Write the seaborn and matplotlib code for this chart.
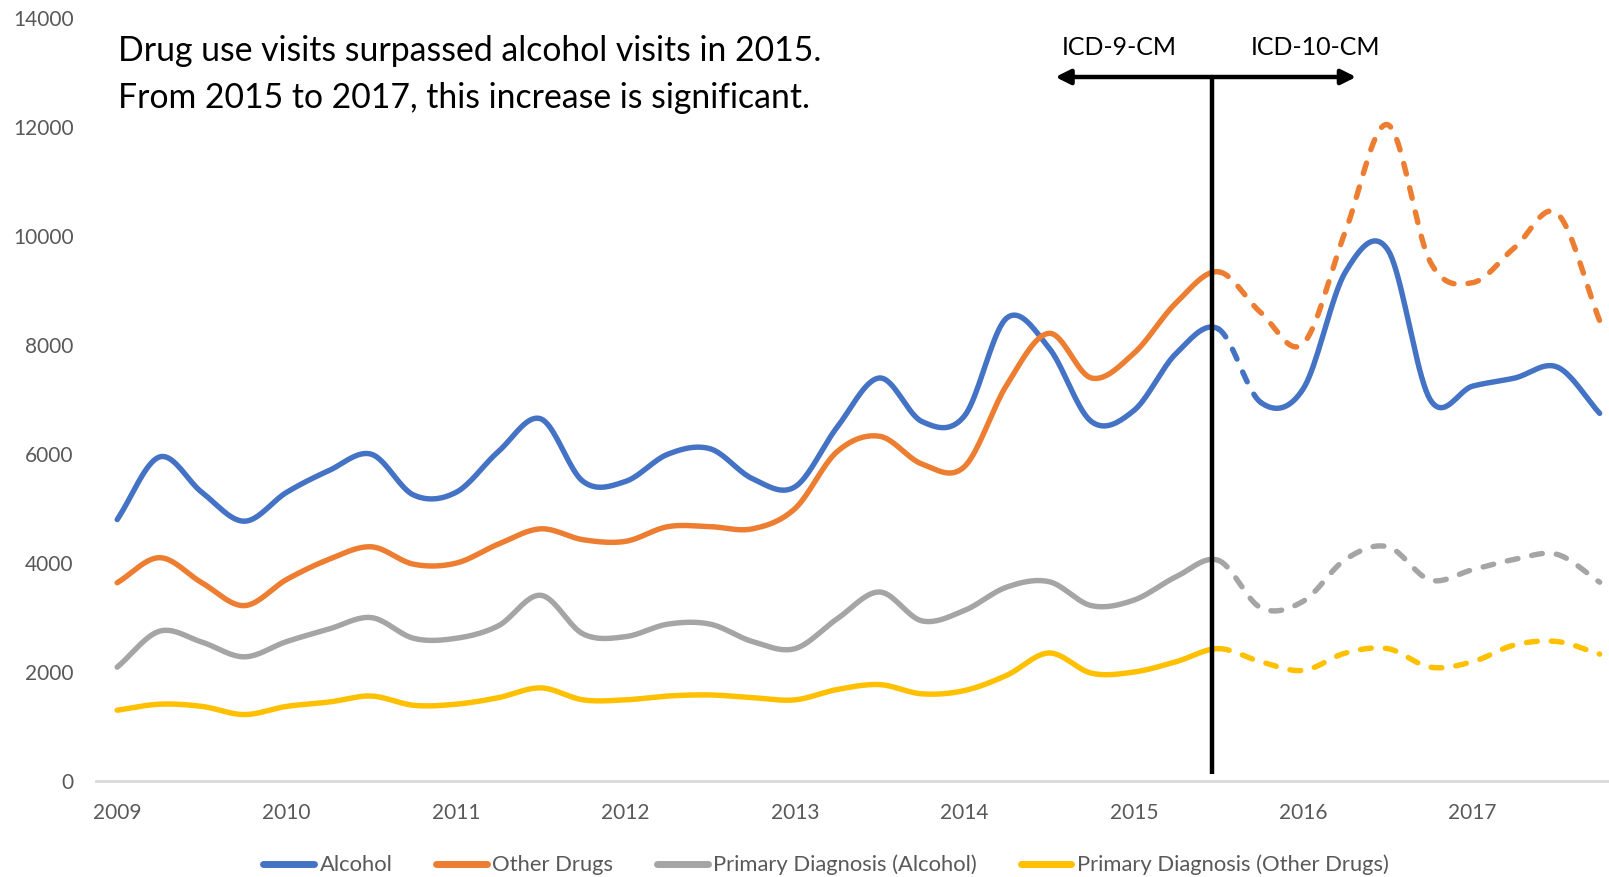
import numpy as np
import pandas as pd
import matplotlib
matplotlib.use("Agg")
import matplotlib.pyplot as plt
import seaborn as sns
from matplotlib.lines import Line2D

# quarterly values, 2009 Q1 .. 2017 Q4
years = ["2009", "2010", "2011", "2012", "2013", "2014", "2015", "2016", "2017"]
alcohol = [4800, 5950, 5300, 4770, 5300, 5700, 6000, 5250, 5300, 6050, 6650, 5500,
           5500, 6000, 6100, 5550, 5400, 6500, 7400, 6600, 6700, 8500, 7950, 6600,
           6800, 7850, 8300, 6950, 7200, 9350, 9750, 7000, 7250, 7400, 7600, 6750]
other_drugs = [3640, 4100, 3640, 3220, 3700, 4070, 4300, 3980, 4000, 4350, 4630, 4430,
               4400, 4670, 4670, 4630, 5000, 6050, 6330, 5820, 5770, 7270, 8220, 7400,
               7850, 8780, 9350, 8600, 8030, 10100, 12050, 9530, 9150, 9800, 10420, 8450]
primary_alcohol = [2090, 2750, 2550, 2280, 2560, 2790, 3000, 2620, 2620, 2850, 3410, 2700,
                   2650, 2880, 2880, 2560, 2430, 2980, 3470, 2940, 3130, 3560, 3660, 3220,
                   3320, 3750, 4050, 3180, 3300, 4070, 4300, 3690, 3880, 4070, 4160, 3650]
primary_drugs = [1300, 1410, 1370, 1220, 1370, 1450, 1560, 1390, 1410, 1530, 1710, 1490,
                 1490, 1560, 1580, 1530, 1490, 1680, 1770, 1600, 1660, 1940, 2350, 1980,
                 2000, 2190, 2430, 2190, 2030, 2350, 2430, 2090, 2190, 2500, 2560, 2330]

series_names = ["Alcohol", "Other Drugs", "Primary Diagnosis (Alcohol)",
                "Primary Diagnosis (Other Drugs)"]
colors = ["#4472C4", "#ED7D31", "#A5A5A5", "#FFC000"]
# (start, end) index of dashed part; after end solid again
dash_ranges = [(26, 27), (26, 35), (26, 35), (26, 35)]
switch_idx = 25.85
arrow_y = 12926

sns.set_style("white")
plt.rcParams["font.family"] = ["Lato", "DejaVu Sans"]


def smooth(y, n=20):
    # catmull-rom style curve through the quarterly points
    y = np.asarray(y, dtype=float)
    m = np.empty_like(y)
    m[1:-1] = (y[2:] - y[:-2]) / 2
    m[0] = y[1] - y[0]
    m[-1] = y[-1] - y[-2]
    xs, ys = [], []
    for i in range(len(y) - 1):
        t = np.linspace(0, 1, n, endpoint=False)
        h00 = 2 * t**3 - 3 * t**2 + 1
        h10 = t**3 - 2 * t**2 + t
        h01 = -2 * t**3 + 3 * t**2
        h11 = t**3 - t**2
        xs.append(i + t)
        ys.append(h00 * y[i] + h10 * m[i] + h01 * y[i + 1] + h11 * m[i + 1])
    xs.append([len(y) - 1])
    ys.append([y[-1]])
    return np.concatenate(xs), np.concatenate(ys)


fig = plt.figure(figsize=(16.09, 8.77), dpi=100)
ax = fig.add_axes([96 / 1609, 1 - 781 / 877, 1 - 96 / 1609, (781 - 18.5) / 877])

all_data = [alcohol, other_drugs, primary_alcohol, primary_drugs]
for vals, name, col, (d0, d1) in zip(all_data, series_names, colors, dash_ranges):
    sx, sy = smooth(vals)
    df = pd.DataFrame({"x": sx, "y": sy})
    parts = [(df[df.x <= d0], False), (df[(df.x >= d0) & (df.x <= d1)], True),
             (df[df.x >= d1], False)]
    for part, dashed in parts:
        if len(part) < 2:
            continue
        sns.lineplot(data=part, x="x", y="y", ax=ax, color=col, linewidth=3.9,
                     sort=False, estimator=None)
        ln = ax.lines[-1]
        ln.set_solid_capstyle("round")
        if dashed:
            ln.set_dashes((2.0, 2.6))
            ln.set_dash_capstyle("round")

ax.set_xlim(-0.5, 35.22)
ax.set_ylim(0, 14000)
ax.set_yticks(range(0, 14001, 2000))
ax.set_xticks(range(0, 36, 4))
ax.set_xticklabels(years)
ax.set_xlabel("")
ax.set_ylabel("")
ax.tick_params(axis="both", length=0, labelsize=15, labelcolor="#595959")
ax.tick_params(axis="y", pad=16)
ax.tick_params(axis="x", pad=16)
for s in ["top", "right", "left"]:
    ax.spines[s].set_visible(False)
ax.spines["bottom"].set_color("#D9D9D9")
ax.spines["bottom"].set_linewidth(2)
ax.grid(False)

# ICD switch marker
ax.plot([switch_idx, switch_idx], [130, arrow_y], color="black",
        linewidth=3.2, solid_capstyle="butt", clip_on=False)
for tip in (22.15, 29.25):
    ax.annotate("", xy=(tip, arrow_y), xytext=(switch_idx, arrow_y),
                arrowprops=dict(arrowstyle="-|>", color="black", lw=3.2,
                                mutation_scale=22, shrinkA=0, shrinkB=0))
ax.text(23.65, 13472, "ICD-9-CM", ha="center", va="center", fontsize=18, color="black")
ax.text(28.3, 13472, "ICD-10-CM", ha="center", va="center", fontsize=18, color="black")

fig.text(118 / 1609, 1 - 51 / 877, "Drug use visits surpassed alcohol visits in 2015.",
         fontsize=24.3, va="center", ha="left", color="black")
fig.text(118 / 1609, 1 - 97.5 / 877, "From 2015 to 2017, this increase is significant.",
         fontsize=24.3, va="center", ha="left", color="black")

handles = [Line2D([0], [0], color=c, linewidth=5, solid_capstyle="round") for c in colors]
fig.legend(handles, series_names, loc="center", bbox_to_anchor=(826 / 1609, 1 - 865 / 877),
           ncol=4, frameon=False, fontsize=15.8, handlelength=2.3, handletextpad=0.25,
           columnspacing=2.0, labelcolor="#595959")

fig.savefig("out.png", dpi=100)
